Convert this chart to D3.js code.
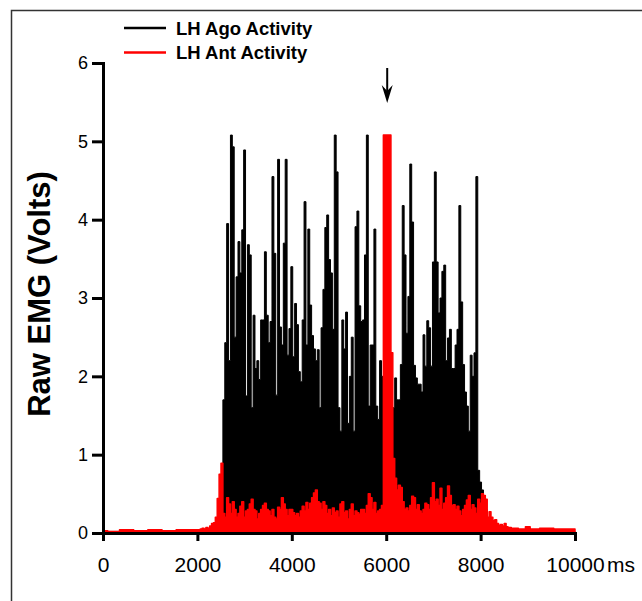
<!DOCTYPE html>
<html>
<head>
<meta charset="utf-8">
<script src="https://cdn.jsdelivr.net/npm/d3@7"></script>
<style>
  body { margin: 0; background: #fff; }
  svg text { font-family: Arial, "Liberation Sans", sans-serif; }
</style>
</head>
<body>
<div id="container"></div>
<script>
/* CONSTANTS AND GLOBALS */
const width = 642, height = 601
const margin = { top: 63, bottom: 68, left: 103, right: 67 }

/* DATA */
const xTicks = [0, 2000, 4000, 6000, 8000, 10000]
const yTicks = [0, 1, 2, 3, 4, 5, 6]
const seriesNames = ["LH Ago Activity", "LH Ant Activity"]

// agonist (black): samples every 40 ms starting at 2560 ms
const agoStart = 2560, agoStep = 40
const agoValues = [1.7, 2.43, 3.95, 2.2, 5.08, 4.93, 2.5, 3.27, 3.72, 3.32,
  3.87, 4.89, 1.75, 3.68, 3.55, 1.6, 2.78, 2.1, 2.2, 1.96,
  2.72, 2.72, 3.59, 2.78, 2.43, 2.7, 4.55, 3.57, 1.76, 4.77,
  2.63, 2.4, 3.7, 4.77, 2.27, 2.61, 3.4, 2.25, 2.93, 2.66,
  2.06, 1.93, 2.72, 4.23, 2.4, 3.88, 2.91, 2.52, 2.35, 2.2,
  2.34, 1.6, 2.62, 3.11, 3.9, 4.06, 3.49, 3.32, 2.6, 5.08,
  4.61, 1.6, 1.3, 2.72, 2.35, 2.82, 1.4, 2.0, 2.5, 1.3,
  3.91, 4.11, 2.9, 2.7, 2.72, 3.55, 5.08, 1.62, 2.4, 2.4,
  3.88, 1.62, 1.45, 2.2, 2.0, 1.0, 0.9, 0.3, 0.8, 1.2,
  1.6, 1.98, 1.7, 1.7, 2.15, 4.18, 3.55, 2.55, 3.02, 4.71,
  3.97, 2.14, 1.98, 1.9, 1.9, 1.8, 2.53, 2.13, 2.71, 2.62,
  2.13, 3.46, 4.61, 3.46, 2.81, 3.0, 3.34, 3.42, 2.2, 2.49,
  2.6, 2.1, 2.1, 2.4, 2.6, 4.18, 2.95, 2.15, 1.8, 1.62,
  1.3, 2.27, 2.0, 2.3, 4.55, 0.8, 0.65, 0.55, 0.45, 0.3,
  0.15, 0.1, 0.08, 0.06]
const agoQuietBefore = [[0, 0.02], [2520, 0.03]]
const agoQuietAfter = [[8400, 0.04], [10000, 0.02]]

// antagonist (red): samples every 40 ms starting at 2000 ms
const antStart = 2000, antStep = 40
const antValues = [0.04, 0.04, 0.05, 0.06, 0.05, 0.07, 0.06, 0.09, 0.12, 0.13,
  0.2, 0.44, 0.75, 0.89, 0.25, 0.2, 0.45, 0.37, 0.25, 0.4,
  0.3, 0.2, 0.25, 0.34, 0.4, 0.2, 0.28, 0.3, 0.37, 0.43,
  0.3, 0.28, 0.18, 0.25, 0.3, 0.35, 0.38, 0.3, 0.28, 0.22,
  0.3, 0.2, 0.18, 0.33, 0.3, 0.45, 0.37, 0.3, 0.22, 0.3,
  0.3, 0.26, 0.22, 0.25, 0.2, 0.28, 0.34, 0.28, 0.39, 0.3,
  0.38, 0.45, 0.51, 0.55, 0.4, 0.38, 0.3, 0.4, 0.35, 0.25,
  0.3, 0.22, 0.32, 0.26, 0.28, 0.2, 0.37, 0.4, 0.26, 0.28,
  0.18, 0.3, 0.37, 0.22, 0.28, 0.26, 0.24, 0.3, 0.3, 0.25,
  0.35, 0.5, 0.45, 0.3, 0.39, 0.25, 0.28, 0.3, 0.35, 5.08,
  5.08, 5.08, 5.08, 2.3, 0.95, 0.7, 0.55, 0.61, 0.58, 0.4,
  0.3, 0.32, 0.28, 0.35, 0.47, 0.45, 0.3, 0.36, 0.28, 0.25,
  0.3, 0.38, 0.36, 0.3, 0.45, 0.64, 0.4, 0.43, 0.35, 0.57,
  0.3, 0.38, 0.45, 0.6, 0.48, 0.35, 0.36, 0.3, 0.34, 0.28,
  0.22, 0.3, 0.35, 0.42, 0.48, 0.3, 0.36, 0.32, 0.25, 0.43,
  0.38, 0.5, 0.48, 0.43, 0.2, 0.27, 0.2, 0.16, 0.17, 0.12,
  0.1, 0.11, 0.09, 0.12, 0.08, 0.07]
const antQuietBefore = [[0, 0.03], [200, 0.02], [500, 0.04], [800, 0.03], [1100, 0.04],
  [1400, 0.03], [1700, 0.04], [1960, 0.04]]
const antQuietAfter = [[8700, 0.06], [8900, 0.05], [9000, 0.08], [9100, 0.05],
  [9400, 0.06], [9700, 0.05], [10000, 0.05]]

const markTime = 6000   // arrow position

/* BUILD SERIES */
const toPoints = (start, step, values) => values.map((v, i) => ({ t: start + i * step, v }))
const pairs = arr => arr.map(d => ({ t: d[0], v: d[1] }))

const agoData = [...pairs(agoQuietBefore), ...toPoints(agoStart, agoStep, agoValues), ...pairs(agoQuietAfter)]
const antData = [...pairs(antQuietBefore), ...toPoints(antStart, antStep, antValues), ...pairs(antQuietAfter)]

/* SCALES */
const xScale = d3.scaleLinear()
  .domain([0, 10000])
  .range([margin.left, width - margin.right])

const yScale = d3.scaleLinear()
  .domain([0, 6])
  .range([height - margin.bottom, margin.top])

/* HTML ELEMENTS */
const svg = d3.select("#container")
  .append("svg")
  .attr("width", width)
  .attr("height", height)

// outer frame
svg.append("rect")
  .attr("x", 11.5).attr("y", 10.5)
  .attr("width", 700).attr("height", 700)
  .attr("fill", "none")
  .attr("stroke", "#333")
  .attr("stroke-width", 1.5)

const area = d3.area()
  .curve(d3.curveStep)
  .x(d => xScale(d.t))
  .y0(yScale(0))
  .y1(d => yScale(d.v))

svg.append("path")
  .datum(agoData)
  .attr("d", area)
  .attr("fill", "black")
  .attr("stroke", "black")
  .attr("stroke-width", 1)

svg.append("path")
  .datum(antData)
  .attr("d", area)
  .attr("fill", "#ff0000")
  .attr("stroke", "#ff0000")
  .attr("stroke-width", 1.5)
  .attr("stroke-linejoin", "round")

// axes
const xAxis = d3.axisBottom(xScale).tickValues(xTicks).tickFormat(d3.format("d"))
  .tickSize(8).tickPadding(16).tickSizeOuter(0)
const yAxis = d3.axisLeft(yScale).tickValues(yTicks).tickFormat(d3.format("d"))
  .tickSize(11).tickPadding(4).tickSizeOuter(0)

const gx = svg.append("g")
  .attr("transform", `translate(0,${yScale(0)})`)
  .call(xAxis)
gx.selectAll("text").style("font-size", "21px").attr("fill", "black")

const gy = svg.append("g")
  .attr("transform", `translate(${xScale(0)},0)`)
  .call(yAxis)
gy.selectAll("text").style("font-size", "18px").attr("fill", "black")

svg.selectAll(".domain").attr("stroke", "black").attr("stroke-width", 3).attr("stroke-linecap", "square")
svg.selectAll(".tick line").attr("stroke", "black").attr("stroke-width", 3)

svg.append("text")
  .attr("x", xScale(10000) + 32)
  .attr("y", yScale(0) + 24)
  .attr("dy", "0.71em")
  .style("font-size", "21px")
  .text("ms")

// y axis title
svg.append("text")
  .attr("transform", `translate(50,${(yScale(0) + yScale(6)) / 2 - 4}) rotate(-90)`)
  .attr("text-anchor", "middle")
  .style("font-size", "31px")
  .style("font-weight", "bold")
  .text("Raw EMG (Volts)")

// arrow marking 6000 ms
const ax = xScale(markTime) + 1
svg.append("line")
  .attr("x1", ax).attr("x2", ax)
  .attr("y1", 68).attr("y2", 94)
  .attr("stroke", "black")
  .attr("stroke-width", 2)
svg.append("path")
  .attr("d", `M${ax},103 L${ax - 5.5},85 L${ax},91 L${ax + 5.5},85 Z`)
  .attr("fill", "black")

// legend
const legend = svg.append("g")
seriesNames.forEach((name, i) => {
  const ly = 28 + i * 24.5
  legend.append("line")
    .attr("x1", 124).attr("x2", 166)
    .attr("y1", ly).attr("y2", ly)
    .attr("stroke", i === 0 ? "black" : "#ff0000")
    .attr("stroke-width", 2.5)
  legend.append("text")
    .attr("x", 176).attr("y", ly + 6.5)
    .style("font-size", "18.5px")
    .style("font-weight", "bold")
    .text(name)
})
</script>
</body>
</html>
